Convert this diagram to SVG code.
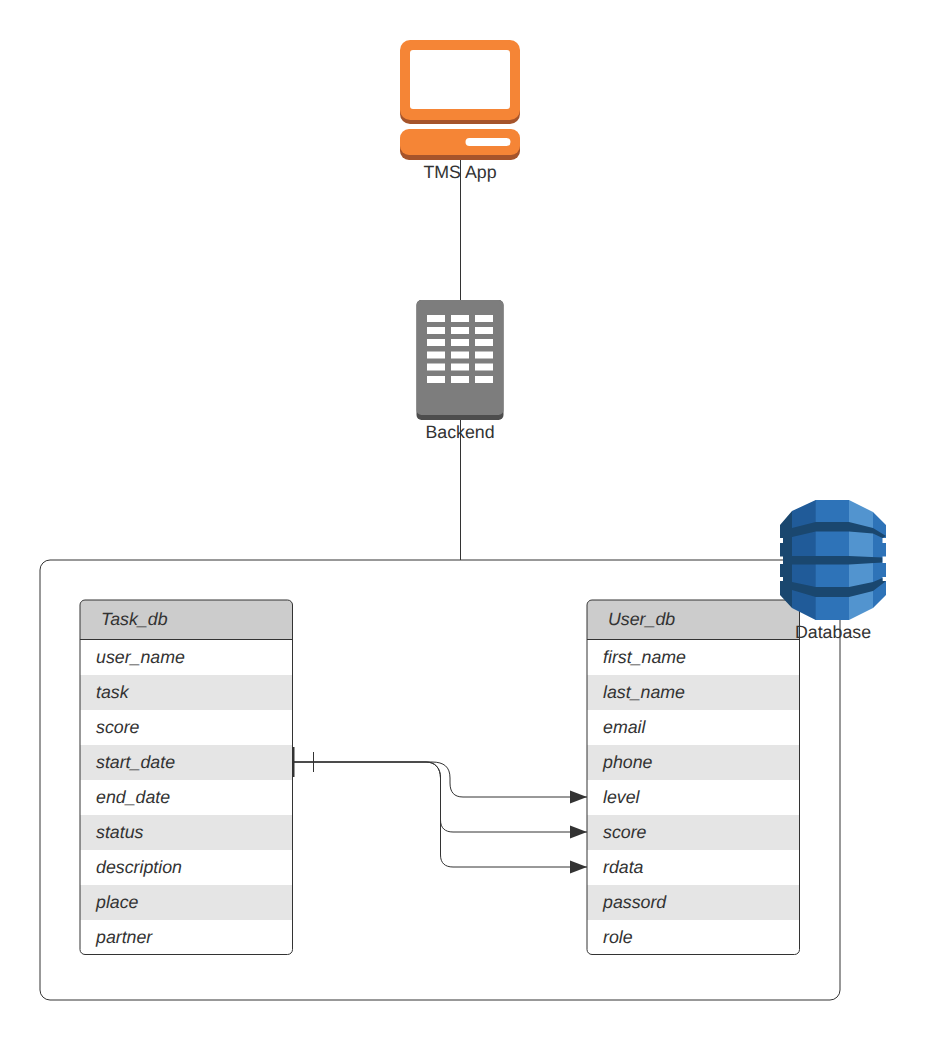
<svg xmlns="http://www.w3.org/2000/svg" width="926" height="1040" viewBox="0 0 926 1040">
<style>
text{font-family:"Liberation Sans",Arial,sans-serif;fill:#333333;text-rendering:geometricPrecision}
.lbl{font-size:17.78px;text-anchor:middle}
.row{font-size:17.78px;font-style:italic}
.box{fill:none;stroke:#333333;stroke-width:1}
.alt{fill:#e5e5e5}
.hd{fill:#cccccc}
.c{fill:none;stroke:#333333;stroke-width:1}
.w{fill:#ffffff}
</style>
<defs>
<marker id="arr" markerUnits="userSpaceOnUse" markerWidth="18" markerHeight="14" refX="17" refY="7" orient="auto"><path d="M0,0.500 L17,7 L0,13.500 Z" fill="#333333"/></marker>
<clipPath id="dbclip"><path d="M815.700 500H849L873 512L886 525V538H882.500V543H886V556.500H882.500V563H886V577H882.500V581H886V595L873 608L849 620H815.700L792 608L780 595V581H783V577H780V564H783V556.500H780V543H783V538H780V525L792 511Z"/></clipPath>
</defs>
<rect width="926" height="1040" fill="#ffffff"/>
<g id="container"><rect class="box" x="40" y="560" width="800" height="440" rx="10" fill="#fff"/></g>
<g id="task_db">
<path class="hd" d="M80 640V606a6 6 0 0 1 6-6H287a6 6 0 0 1 6 6V640Z"/>
<rect class="alt" x="80" y="675" width="213" height="35"/><rect class="alt" x="80" y="745" width="213" height="35"/><rect class="alt" x="80" y="815" width="213" height="35"/><rect class="alt" x="80" y="885" width="213" height="35"/>
<rect class="box" x="80" y="600" width="212.500" height="354.500" rx="5"/>
<path class="box" d="M80 639.500H292.500"/>
<text class="row" x="101" y="625">Task_db</text>
<text class="row" x="96" y="663">user_name</text><text class="row" x="96" y="698">task</text><text class="row" x="96" y="733">score</text><text class="row" x="96" y="768">start_date</text><text class="row" x="96" y="803">end_date</text><text class="row" x="96" y="838">status</text><text class="row" x="96" y="873">description</text><text class="row" x="96" y="908">place</text><text class="row" x="96" y="943">partner</text>
</g>
<g id="user_db">
<path class="hd" d="M587 640V606a6 6 0 0 1 6-6H794a6 6 0 0 1 6 6V640Z"/>
<rect class="alt" x="587" y="675" width="213" height="35"/><rect class="alt" x="587" y="745" width="213" height="35"/><rect class="alt" x="587" y="815" width="213" height="35"/><rect class="alt" x="587" y="885" width="213" height="35"/>
<rect class="box" x="587" y="600" width="212.500" height="354.500" rx="5"/>
<path class="box" d="M587 639.500H799.500"/>
<text class="row" x="608" y="625">User_db</text>
<text class="row" x="603" y="663">first_name</text><text class="row" x="603" y="698">last_name</text><text class="row" x="603" y="733">email</text><text class="row" x="603" y="768">phone</text><text class="row" x="603" y="803">level</text><text class="row" x="603" y="838">score</text><text class="row" x="603" y="873">rdata</text><text class="row" x="603" y="908">passord</text><text class="row" x="603" y="943">role</text>
</g>
<g id="tms_app">
<rect x="400" y="44" width="120" height="80" rx="10" fill="#a5542b"/>
<rect x="400" y="40" width="120" height="80" rx="10" fill="#f58536"/>
<rect x="410" y="50" width="100" height="59" rx="3" fill="#ffffff"/>
<rect x="400" y="133" width="120" height="27" rx="9" fill="#a5542b"/>
<rect x="400" y="129" width="120" height="26" rx="9" fill="#f58536"/>
<rect x="465.500" y="138" width="45" height="8" rx="4" fill="#ffffff"/>
<text class="lbl" x="460" y="178">TMS App</text>
</g>
<g id="backend">
<rect x="416.500" y="300" width="87" height="120" rx="5" fill="#4d4d4d"/>
<path d="M421.500 300H498.500a5 5 0 0 1 5 5V410a5 5 0 0 1-5 5H421.500a5 5 0 0 1-5-5V305a5 5 0 0 1 5-5Z" fill="#7d7d7d"/>
<g class="w">
<rect x="427" y="315" width="18" height="7"/><rect x="451" y="315" width="18" height="7"/><rect x="475" y="315" width="18" height="7"/>
<rect x="427" y="327" width="18" height="7"/><rect x="451" y="327" width="18" height="7"/><rect x="475" y="327" width="18" height="7"/>
<rect x="427" y="339" width="18" height="7"/><rect x="451" y="339" width="18" height="7"/><rect x="475" y="339" width="18" height="7"/>
<rect x="427" y="351.500" width="18" height="7"/><rect x="451" y="351.500" width="18" height="7"/><rect x="475" y="351.500" width="18" height="7"/>
<rect x="427" y="363.500" width="18" height="7"/><rect x="451" y="363.500" width="18" height="7"/><rect x="475" y="363.500" width="18" height="7"/>
<rect x="427" y="376" width="18" height="7"/><rect x="451" y="376" width="18" height="7"/><rect x="475" y="376" width="18" height="7"/>
</g>
<text class="lbl" x="460" y="438">Backend</text>
</g>
<g id="database">
<g clip-path="url(#dbclip)">
<rect x="780" y="500" width="12" height="120" fill="#1a476f"/>
<rect x="792" y="500" width="24" height="120" fill="#205b99"/>
<rect x="815.700" y="500" width="33.300" height="120" fill="#2e73b8"/>
<rect x="849" y="500" width="24" height="120" fill="#5294cf"/>
<rect x="873" y="500" width="13" height="120" fill="#2e73b8"/>
<path d="M792 528L815.700 522H849L873 528L886 536L882.500 538L873 533.500L849 531.500H815.700L792 537Z" fill="#1a476f"/>
<path d="M792 556H815.700H849L882.500 557.500V562.500L849 564.500H792Z" fill="#1a476f"/>
<path d="M792 582L815.700 587H849L873 582L882.500 578L886 581L873 591L849 597H815.700L792 590Z" fill="#1a476f"/>
</g>
<text class="lbl" x="833" y="638">Database</text>
</g>
<g id="connectors">
<path class="c" d="M460.500 160V300"/>
<path class="c" d="M460.500 420V560"/>
<path class="c" d="M293 762H432C444 762 450 767 450 778V783C450 792 454 797 463 797H587" marker-end="url(#arr)"/>
<path class="c" d="M293 762H426C435 762 440.500 768 440.500 778V820C440.500 828 445 832 453 832H587" marker-end="url(#arr)"/>
<path class="c" d="M293 762H426C435 762 440.500 768 440.500 778V855C440.500 863 445 867 453 867H587" marker-end="url(#arr)"/>
<path d="M293.500 747V777" fill="none" stroke="#333333" stroke-width="2"/>
<path class="c" d="M313.500 752V772"/>
</g>
</svg>
